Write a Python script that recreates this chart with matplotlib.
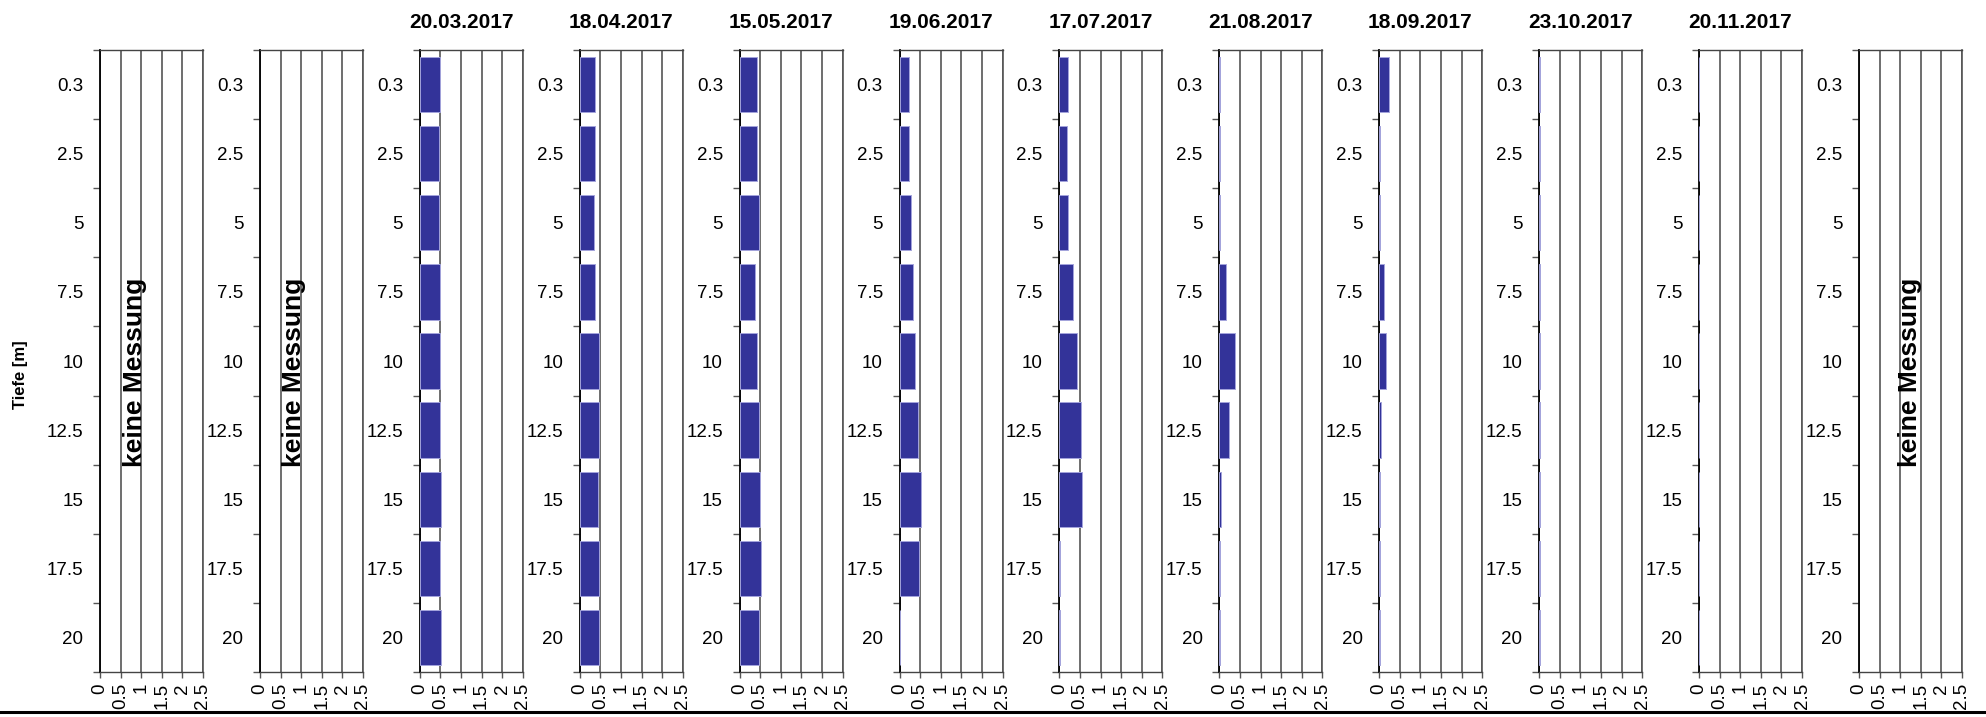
import matplotlib
matplotlib.use('Agg')
import matplotlib.pyplot as plt
from matplotlib.lines import Line2D
import numpy as np

plt.rcParams['font.family'] = ['Liberation Sans', 'DejaVu Sans']

# Tiefenstufen (m)
depth_labels = ['0.3', '2.5', '5', '7.5', '10', '12.5', '15', '17.5', '20']

dates = ['', '', '20.03.2017', '18.04.2017', '15.05.2017', '19.06.2017',
         '17.07.2017', '21.08.2017', '18.09.2017', '23.10.2017', '20.11.2017', '']

# Messwerte je Termin (None = keine Messung)
v_0320 = [0.48, 0.47, 0.47, 0.49, 0.49, 0.49, 0.51, 0.50, 0.51]
v_0418 = [0.375, 0.375, 0.35, 0.38, 0.46, 0.46, 0.44, 0.47, 0.47]
v_0515 = [0.43, 0.42, 0.47, 0.38, 0.43, 0.46, 0.49, 0.51, 0.47]
v_0619 = [0.24, 0.225, 0.275, 0.32, 0.375, 0.45, 0.52, 0.47, 0.02]
v_0717 = [0.22, 0.19, 0.20, 0.33, 0.43, 0.525, 0.55, 0.02, 0.02]
v_0821 = [0.02, 0.02, 0.02, 0.17, 0.37, 0.23, 0.05, 0.02, 0.02]
v_0918 = [0.24, 0.02, 0.02, 0.11, 0.16, 0.05, 0.02, 0.02, 0.02]
v_1023 = [0.015, 0.015, 0.015, 0.015, 0.015, 0.015, 0.015, 0.015, 0.015]
v_1120 = [0.01, 0.01, 0.01, 0.01, 0.01, 0.01, 0.01, 0.01, 0.01]

panels = [None, None, v_0320, v_0418, v_0515, v_0619, v_0717,
          v_0821, v_0918, v_1023, v_1120, None]

W, H = 1986, 717
fig = plt.figure(figsize=(W / 100, H / 100), dpi=100)

y = np.arange(len(depth_labels))
xt = [0, 0.5, 1, 1.5, 2, 2.5]
xt_labels = ['0', '0.5', '1', '1.5', '2', '2.5']
note_x = {0: 0.85, 1: 0.83, 11: 1.23}

for i, (date, vals) in enumerate(zip(dates, panels)):
    ax = fig.add_axes([(100 + 159.9 * i) / W, 45 / H, 103 / W, 622 / H])
    ax.set_axisbelow(True)
    if vals is not None:
        ax.barh(y, vals, height=0.8, color='#333399', edgecolor='#a4a4dc',
                linewidth=0.7, zorder=3)
    else:
        ax.text(note_x[i], 4.17, 'keine Messung', rotation=90, ha='center',
                va='center', fontsize=19, fontweight='bold')
    ax.set_xlim(0, 2.5)
    ax.set_ylim(8.5, -0.5)
    ax.set_yticks(y)
    ax.set_yticklabels(depth_labels)
    ax.set_yticks(np.arange(-0.5, 9, 1), minor=True)
    ax.tick_params(axis='y', which='major', length=0, pad=12, labelsize=13.5)
    ax.tick_params(axis='y', which='minor', length=5, width=1, color='#555555')
    ax.set_xticks(xt)
    ax.set_xticklabels(xt_labels, rotation=90)
    ax.tick_params(axis='x', length=4, width=1, color='#555555', pad=4, labelsize=13.5)
    ax.grid(axis='x', color='#555555', linewidth=1.2)
    for s in ['top', 'bottom']:
        ax.spines[s].set_color('#444444')
        ax.spines[s].set_linewidth(1.0)
    ax.spines['left'].set_color('black')
    ax.spines['left'].set_linewidth(1.3)
    ax.spines['right'].set_color('#555555')
    ax.spines['right'].set_linewidth(1.2)
    if date:
        ax.set_title(date, x=0.40, pad=16, fontsize=15, fontweight='bold')

fig.text(20 / W, 1 - 375 / H, 'Tiefe [m]', rotation=90, ha='center', va='center',
         fontsize=12, fontweight='bold')

fig.add_artist(Line2D([0, 1], [5 / H, 5 / H], transform=fig.transFigure,
                      color='black', linewidth=2.2))

fig.savefig('out.png', dpi=100)
